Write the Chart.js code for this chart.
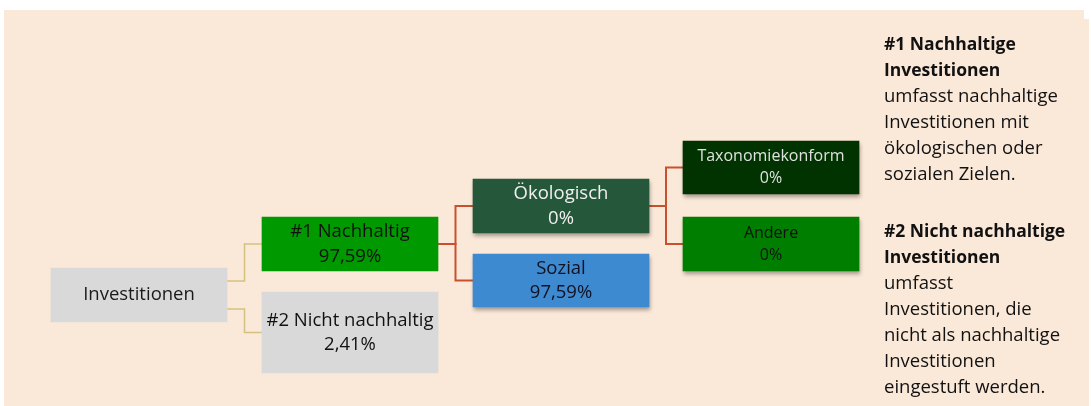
<!DOCTYPE html>
<html><head><meta charset="utf-8">
<script src="https://cdn.jsdelivr.net/npm/chart.js@4/dist/chart.umd.min.js"></script>
<style>html,body{margin:0;padding:0;background:#fff}canvas{display:block}</style>
</head><body>
<canvas id="c" width="1091" height="406"></canvas>
<script>
// ---- data ----
const categories = ['Investitionen', '#1 Nachhaltig', '#2 Nicht nachhaltig', 'Ökologisch', 'Sozial', 'Taxonomiekonform', 'Andere'];
const shares = [null, 97.59, 2.41, 0, 97.59, 0, 0];
const parents = [null, 0, 0, 1, 1, 3, 3];
const note1Title = ['#1 Nachhaltige', 'Investitionen'];
const note1Body = ['umfasst nachhaltige', 'Investitionen mit', 'ökologischen oder', 'sozialen Zielen.'];
const note2Title = ['#2 Nicht nachhaltige', 'Investitionen'];
const note2Body = ['umfasst', 'Investitionen, die', 'nicht als nachhaltige', 'Investitionen', 'eingestuft werden.'];

// ---- layout (diagram space = pixel space 1091 x 406) ----
const layout = [
  {x0: 51,  x1: 227, y0: 268, y1: 322},
  {x0: 262, x1: 438, y0: 217, y1: 271},
  {x0: 262, x1: 438, y0: 292, y1: 373},
  {x0: 473, x1: 649, y0: 179, y1: 233},
  {x0: 473, x1: 649, y0: 254, y1: 307},
  {x0: 683, x1: 859, y0: 141, y1: 194},
  {x0: 683, x1: 859, y0: 217, y1: 271}
];
const styles = [
  {bg: '#D9D9D9', fg: '#1a1a1a', size: 18.5, shadow: false},
  {bg: '#009900', fg: '#111111', size: 18.5, shadow: false},
  {bg: '#D9D9D9', fg: '#111111', size: 18.5, shadow: false},
  {bg: '#25573A', fg: '#F0F0F0', size: 18.5, shadow: true},
  {bg: '#3E8AD0', fg: '#111122', size: 18.5, shadow: true},
  {bg: '#013300', fg: '#E0E0E0', size: 16, shadow: true},
  {bg: '#007E00', fg: '#111111', size: 16, shadow: true}
];
const FONT = "'Open Sans', 'Noto Sans', sans-serif";

function fmt(v){ return v === null ? null : (String(v).replace('.', ',') + '%'); }

// connectors from parent to child (elbow)
function connectorData(childIdx){
  const p = layout[parents[childIdx]], c = layout[childIdx];
  const siblings = parents.map((q,i)=>q===parents[childIdx]?i:-1).filter(i=>i>=0);
  const first = siblings[0] === childIdx;
  const py = (p.y0 + p.y1) / 2 + (childIdx <= 2 ? (first ? -14 : 14) : 0);
  const midX = p.x1 + (c.x0 - p.x1) / 2;
  const cy = (c.y0 + c.y1) / 2;
  return [{x: p.x1, y: py}, {x: midX, y: py}, {x: midX, y: cy}, {x: c.x0, y: cy}];
}

const datasets = [];
[false, true].forEach(sh => {
  const idx = categories.map((_, i) => i).filter(i => styles[i].shadow === sh);
  datasets.push({
    type: 'bar',
    label: sh ? 'shadowed' : 'plain',
    data: idx.map(i => ({x: (layout[i].x0 + layout[i].x1) / 2, y: [layout[i].y0, layout[i].y1], i})),
    backgroundColor: idx.map(i => styles[i].bg),
    barThickness: 176,
    grouped: false,
    borderWidth: 0,
    shadow: sh,
    order: 1
  });
});
for (let i = 1; i < categories.length; i++) {
  datasets.push({
    type: 'line',
    data: connectorData(i),
    borderColor: i <= 2 ? '#D5C17F' : '#C9502F',
    borderWidth: i <= 2 ? 1.5 : 2,
    pointRadius: 0,
    tension: 0,
    fill: false,
    order: 2
  });
}

const bgPlugin = {
  id: 'bg',
  beforeDraw(chart){
    const {ctx, scales:{x, y}} = chart;
    ctx.save();
    ctx.fillStyle = '#FAE8D8';
    const X0 = x.getPixelForValue(4), X1 = x.getPixelForValue(1084), X2 = x.getPixelForValue(1089);
    ctx.fillRect(X0, y.getPixelForValue(10), X1 - X0, y.getPixelForValue(406) - y.getPixelForValue(10));
    ctx.fillRect(X1, y.getPixelForValue(19), X2 - X1, y.getPixelForValue(406) - y.getPixelForValue(19));
    ctx.restore();
  },
  beforeDatasetDraw(chart, args){
    const ds = chart.data.datasets[args.index];
    if (ds.shadow) {
      chart.ctx.save();
      chart.ctx.shadowColor = 'rgba(0,0,0,0.35)';
      chart.ctx.shadowBlur = 4;
      chart.ctx.shadowOffsetX = 1;
      chart.ctx.shadowOffsetY = 3;
    }
  },
  afterDatasetDraw(chart, args){
    const ds = chart.data.datasets[args.index];
    if (ds.shadow) chart.ctx.restore();
  },
  afterDatasetsDraw(chart){
    const {ctx, scales:{x, y}} = chart;
    ctx.save();
    ctx.textAlign = 'center';
    ctx.textBaseline = 'middle';
    categories.forEach((name, i) => {
      const L = layout[i], s = styles[i];
      const cx = x.getPixelForValue((L.x0 + L.x1) / 2);
      const cy = y.getPixelForValue((L.y0 + L.y1) / 2);
      ctx.fillStyle = s.fg;
      ctx.font = s.size + 'px ' + FONT;
      const val = fmt(shares[i]);
      if (val === null) {
        ctx.fillText(name, cx, cy);
      } else {
        const gap = s.size <= 16 ? 22 : 24.5;
        ctx.fillText(name, cx, cy - gap / 2);
        ctx.fillText(val, cx, cy + gap / 2);
      }
    });
    // side notes
    ctx.textAlign = 'left';
    ctx.fillStyle = '#111111';
    const nx = x.getPixelForValue(884);
    function block(title, body, startY){
      let yy = startY;
      ctx.font = 'bold 17.5px ' + FONT;
      title.forEach(t => { ctx.fillText(t, nx, y.getPixelForValue(yy)); yy += 26; });
      ctx.font = '18.5px ' + FONT;
      body.forEach(t => { ctx.fillText(t, nx, y.getPixelForValue(yy)); yy += 26; });
    }
    block(note1Title, note1Body, 45);
    block(note2Title, note2Body, 232);
    ctx.restore();
  }
};

new Chart(document.getElementById('c'), {
  data: {datasets},
  options: {
    responsive: false,
    animation: false,
    events: [],
    layout: {padding: 0},
    plugins: {legend: {display: false}, tooltip: {enabled: false}},
    scales: {
      x: {type: 'linear', min: 0, max: 1091, display: false, offset: false},
      y: {type: 'linear', min: 0, max: 406, reverse: true, display: false}
    }
  },
  plugins: [bgPlugin]
});
</script>
</body></html>
